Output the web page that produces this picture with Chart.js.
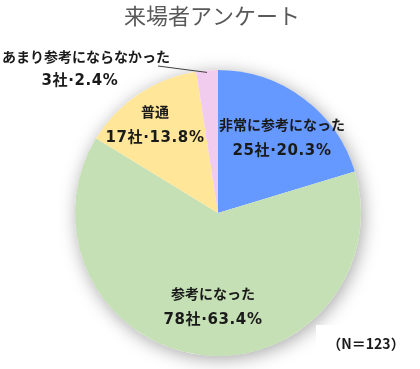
<!DOCTYPE html>
<html>
<head>
<meta charset="utf-8">
<script src="https://cdn.jsdelivr.net/npm/chart.js@4/dist/chart.umd.min.js"></script>
<style>
  html, body { margin: 0; padding: 0; background: #fff; }
  #wrap { width: 420px; height: 369px; position: relative; }
</style>
</head>
<body>
<div id="wrap"><canvas id="chart" width="420" height="369"></canvas></div>
<script>
const categories = ["非常に参考になった", "参考になった", "普通", "あまり参考にならなかった"];
const counts = [25, 78, 17, 3];
const colors = ["#6699FF", "#C5E0B4", "#FFE699", "#F2CCEE"];
const total = 123;

const FONT = '"Noto Sans CJK JP", "Noto Sans", sans-serif';
const NUMFONT = '"DejaVu Sans", "Noto Sans CJK JP", sans-serif';

// label placement (centre x, first line y), per slice
const labelPos = [
  { x: 282, y: 125, align: "center" },
  { x: 213, y: 294, align: "center" },
  { x: 155, y: 112, align: "center" },
  { x: 2, y: 57, align: "left", x2: 80 }
];

const pct = (c) => (c / total * 100).toFixed(1);

const deco = {
  id: "deco",
  beforeDatasetsDraw(chart) {
    const arc = chart.getDatasetMeta(0).data[0];
    const ctx = chart.ctx;
    ctx.save();
    ctx.shadowColor = "rgba(0,0,0,0.35)";
    ctx.shadowBlur = 18;
    ctx.shadowOffsetX = 2;
    ctx.shadowOffsetY = 3;
    ctx.fillStyle = "#fff";
    ctx.beginPath();
    ctx.arc(arc.x, arc.y, arc.outerRadius, 0, Math.PI * 2);
    ctx.fill();
    ctx.restore();
  },
  afterDatasetsDraw(chart) {
    const ctx = chart.ctx;
    const meta = chart.getDatasetMeta(0);
    ctx.save();
    // cover box behind N label
    ctx.fillStyle = "#fff";
    ctx.fillRect(316, 325, 104, 44);

    // title
    ctx.fillStyle = "#595959";
    ctx.font = "22px " + FONT;
    ctx.textAlign = "center";
    ctx.textBaseline = "middle";
    ctx.fillText("来場者アンケート", 212, 16);

    // leader line for the small slice
    const small = meta.data[3];
    const mid = (small.startAngle + small.endAngle) / 2;
    ctx.strokeStyle = "#404040";
    ctx.lineWidth = 1;
    ctx.beginPath();
    ctx.moveTo(158, 66);
    ctx.lineTo(small.x + Math.cos(mid) * small.outerRadius, small.y + Math.sin(mid) * small.outerRadius + 2);
    ctx.stroke();

    ctx.fillStyle = "#1a1a1a";
    categories.forEach((name, i) => {
      const p = labelPos[i];
      ctx.font = "bold 14px " + FONT;
      ctx.letterSpacing = "0px";
      ctx.textAlign = p.align;
      ctx.fillText(name, p.x, p.y);
      const line2 = counts[i] + "社·" + pct(counts[i]) + "%";
      ctx.font = "bold 15px " + NUMFONT;
      ctx.letterSpacing = "0.6px";
      ctx.textAlign = "center";
      if (p.x2 !== undefined) {
        ctx.fillText(line2, p.x2, p.y + 24);
      } else {
        ctx.fillText(line2, p.x, p.y + 26);
      }
    });

    ctx.letterSpacing = "0px";
    ctx.textAlign = "center";
    ctx.font = "bold 14px " + FONT;
    ctx.fillText("（N＝" + total + "）", 366, 344);
    ctx.restore();
  }
};

new Chart(document.getElementById("chart"), {
  type: "pie",
  data: {
    labels: categories,
    datasets: [{ data: counts, backgroundColor: colors, borderWidth: 0, hoverOffset: 0 }]
  },
  options: {
    responsive: false,
    animation: false,
    layout: { padding: { left: 75, right: 59, top: 70, bottom: 13 } },
    plugins: { legend: { display: false }, tooltip: { enabled: false }, title: { display: false } }
  },
  plugins: [deco]
});
</script>
</body>
</html>
